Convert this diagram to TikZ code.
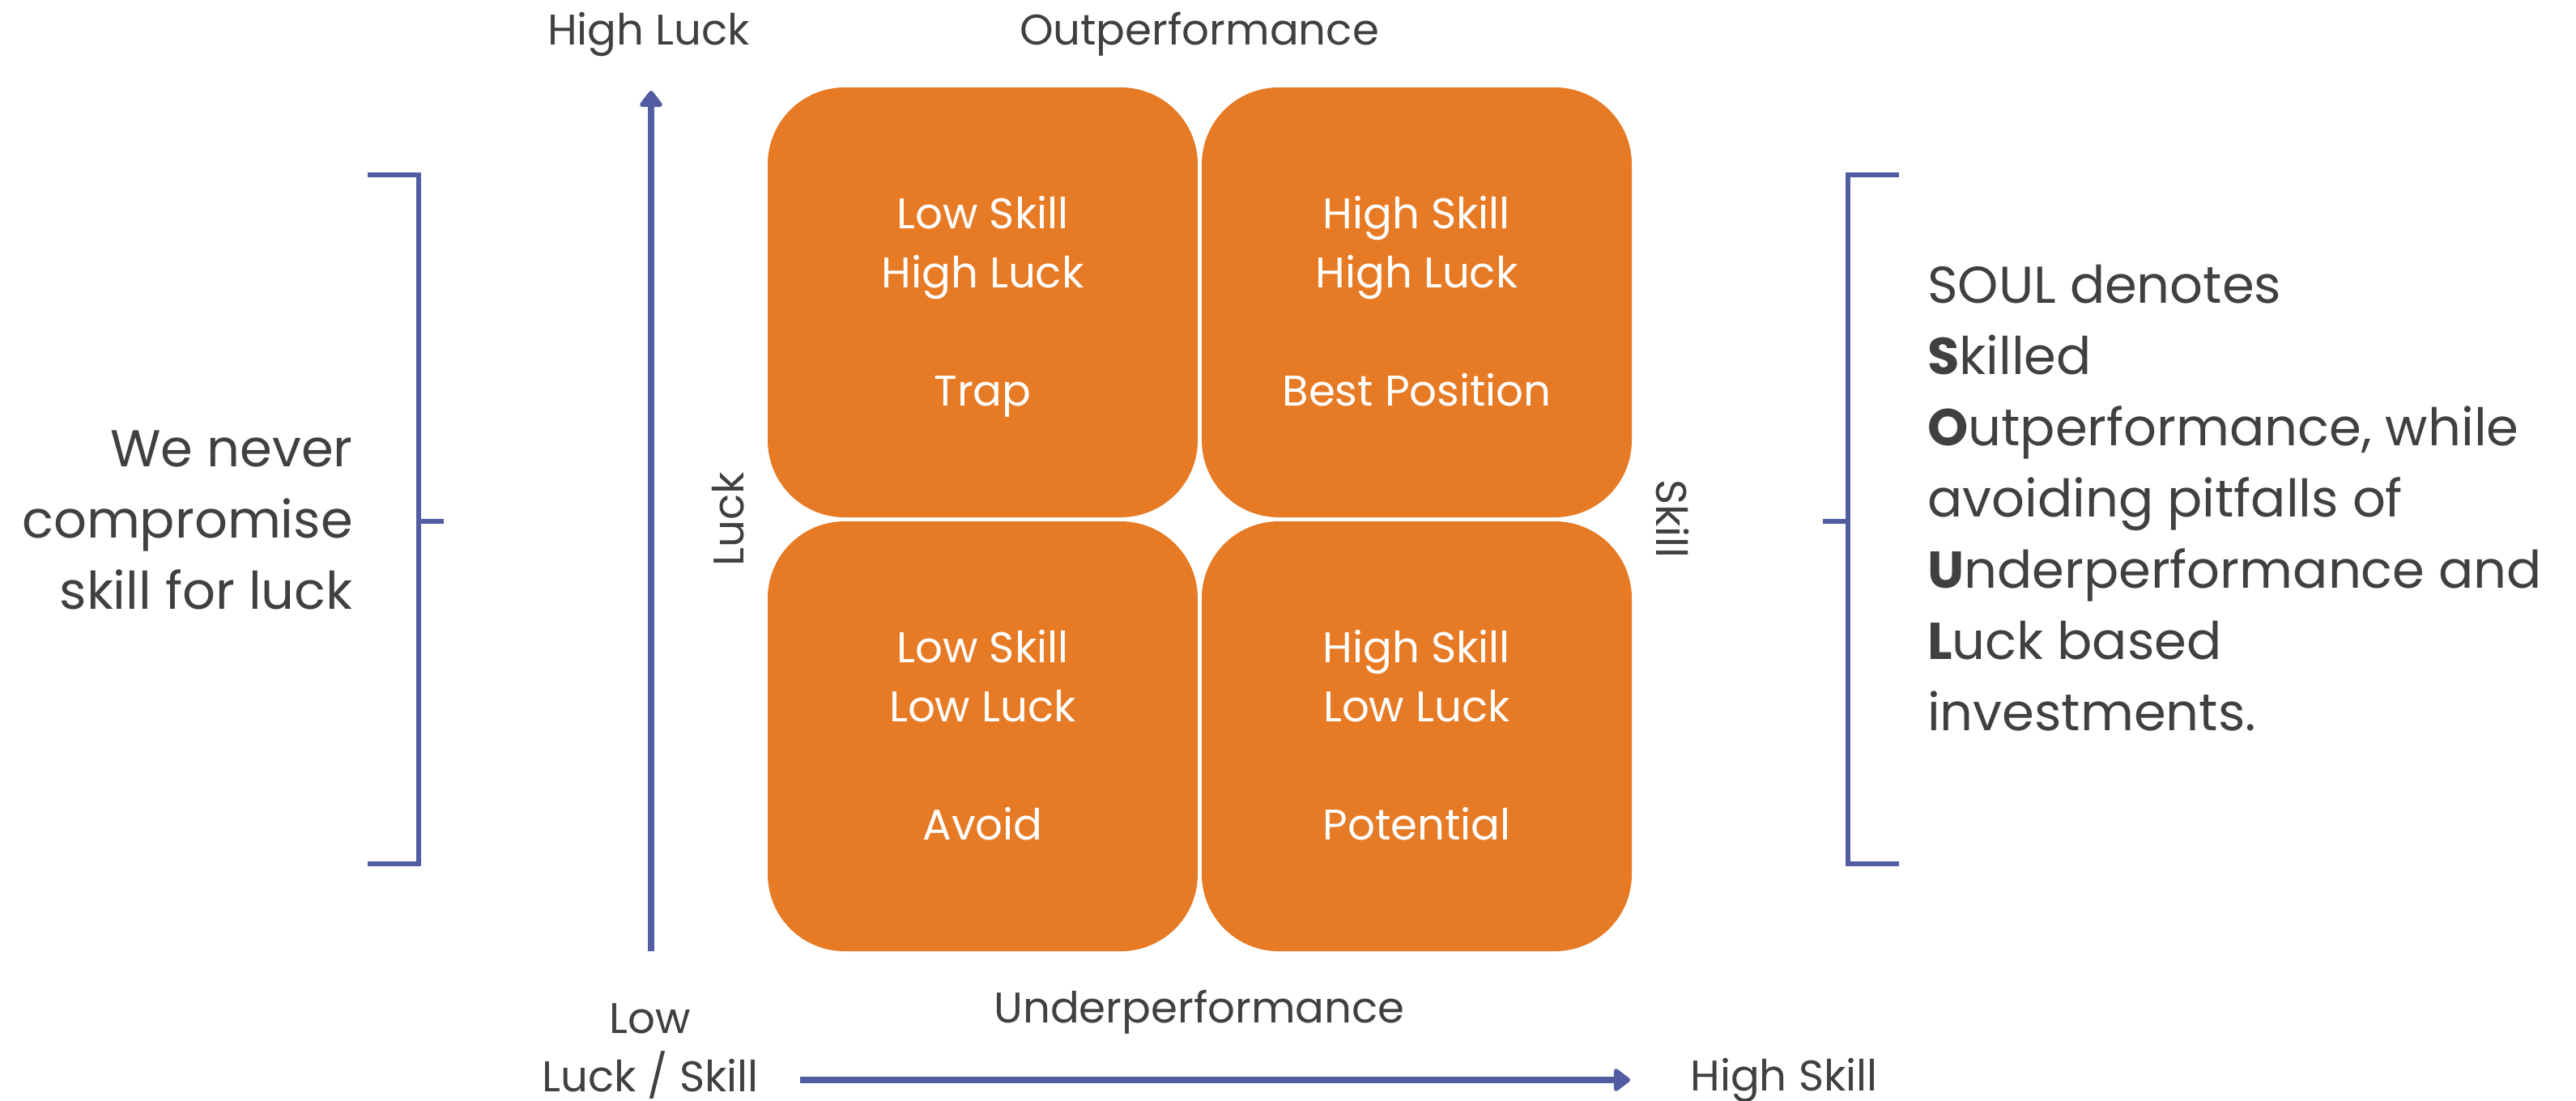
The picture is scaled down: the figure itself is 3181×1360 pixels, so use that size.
\documentclass[tikz,border=0pt]{standalone}
\usepackage{fontspec}
\setmainfont{Poppins}
\usetikzlibrary{arrows.meta}
\definecolor{quadorange}{HTML}{E67A25}
\definecolor{axisblue}{HTML}{525CA2}
\definecolor{textgray}{HTML}{404040}
\tikzset{
  quad/.style={rectangle, rounded corners=95pt, fill=quadorange, draw=none,
    minimum width=531pt, minimum height=531pt, inner sep=0pt, text=white,
    align=center, font=\fontsize{53}{73}\selectfont},
  quadtext/.style={inner sep=0pt, text=white, align=center,
    font=\fontsize{53}{73}\selectfont},
  lbl/.style={inner sep=0pt, text=textgray, font=\fontsize{53}{73}\selectfont},
  bigtxt/.style={inner sep=0pt, text=textgray, font=\fontsize{64}{88}\selectfont},
  axisarrow/.style={draw=axisblue, line width=8pt,
    -{Triangle[round, width=32pt, length=22pt]}},
  bracket/.style={draw=axisblue, line width=6pt}
}
\begin{document}
\begin{tikzpicture}[x=1pt, y=-1pt]
\useasboundingbox (0,0) rectangle (3181,1360);

% quadrants
\node[quad] (tl) at (1213.5,373.5) {};
\node[quad] (tr) at (1749.5,373.5) {};
\node[quad] (bl) at (1213.5,909.5) {};
\node[quad] (br) at (1749.5,909.5) {};
\node[quadtext] (tltxt) at (1213.5,377) {\strut Low Skill\\High Luck\\[73pt]Trap\strut};
\node[quadtext] (trtxt) at (1749.5,377) {\strut High Skill\\High Luck\\[73pt]Best Position\strut};
\node[quadtext] (bltxt) at (1213.5,913) {\strut Low Skill\\Low Luck\\[73pt]Avoid\strut};
\node[quadtext] (brtxt) at (1749.5,913) {\strut High Skill\\Low Luck\\[73pt]Potential\strut};

% axes
\coordinate (vstart) at (804,1175);
\coordinate (vend) at (804,112);
\coordinate (hstart) at (988,1334);
\coordinate (hend) at (2013,1334);
\draw[axisarrow] (vstart) -- (vend);
\draw[axisarrow] (hstart) -- (hend);

% axis labels
\node[lbl, anchor=base] (highluck) at (801,55) {High Luck};
\node[lbl, anchor=base] (outp) at (1481,55) {Outperformance};
\node[lbl, anchor=base] (underp) at (1481,1263) {Underperformance};
\node[lbl, anchor=base] (low) at (803,1276) {Low};
\node[lbl, anchor=base] (lowls) at (803,1348) {Luck / Skill};
\node[lbl, anchor=base] (highskill) at (2203,1347) {High Skill};
\node[lbl, rotate=90] (luck) at (899,641) {Luck};
\node[lbl, rotate=-90] (skill) at (2065,641) {Skill};

% left bracket
\draw[bracket] (454,216) -- (517,216) -- (517,1067) -- (454,1067);
\draw[bracket] (517,644) -- (548,644);
% right bracket
\draw[bracket] (2345,216) -- (2282,216) -- (2282,1067) -- (2345,1067);
\draw[bracket] (2282,644) -- (2251,644);

% side texts
\node[bigtxt, align=right, anchor=east] (lefttxt) at (436,647)
  {\strut We never\\compromise\\skill for luck\strut};
\node[bigtxt, align=left, anchor=west] (righttxt) at (2380,621)
  {\strut SOUL denotes\\\textbf{S}killed\\\textbf{O}utperformance, while\\avoiding pitfalls of\\\textbf{U}nderperformance and\\\textbf{L}uck based\\investments.\strut};
\end{tikzpicture}
\end{document}
